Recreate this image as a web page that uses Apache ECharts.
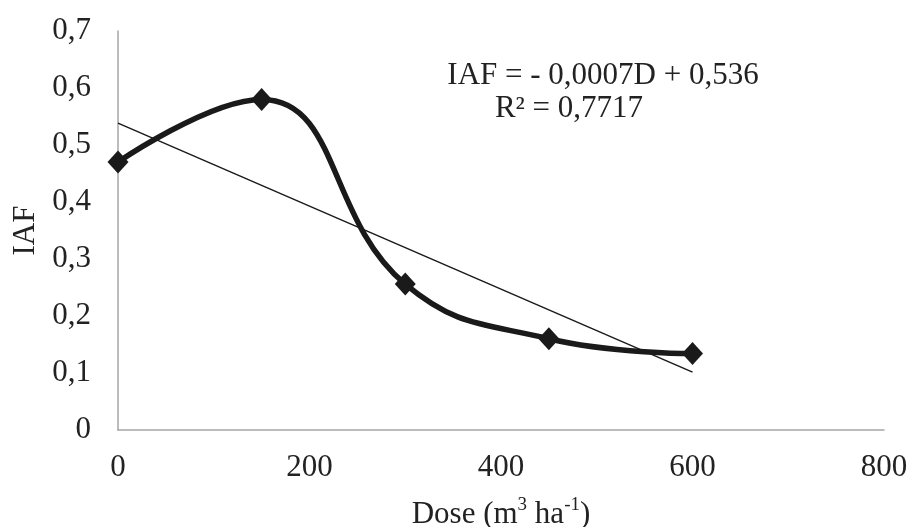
<!DOCTYPE html>
<html>
<head>
<meta charset="utf-8">
<script src="https://cdn.jsdelivr.net/npm/echarts@6/dist/echarts.min.js"></script>
<style>
  html, body { margin: 0; padding: 0; background: #fff; overflow: hidden; }
  #chart { width: 908px; height: 527px; }
</style>
</head>
<body>
<div id="chart"></div>
<script>
// Leaf area index (IAF) against applied dose
const doses = [0, 150, 300, 450, 600];
const iafValues = [0.47, 0.58, 0.256, 0.16, 0.134];
const xTicks = [0, 200, 400, 600, 800];
const yTicks = [0, 0.1, 0.2, 0.3, 0.4, 0.5, 0.6, 0.7];
const equationLine = 'IAF = - 0,0007D + 0,536';
const r2Line = 'R² = 0,7717';

// Least-squares linear fit of the measured points
function linearFit(xs, ys) {
  const n = xs.length;
  const mx = xs.reduce((a, b) => a + b, 0) / n;
  const my = ys.reduce((a, b) => a + b, 0) / n;
  let sxy = 0, sxx = 0;
  for (let i = 0; i < n; i++) {
    sxy += (xs[i] - mx) * (ys[i] - my);
    sxx += (xs[i] - mx) * (xs[i] - mx);
  }
  const slope = sxy / sxx;
  return { slope, intercept: my - slope * mx };
}
const fit = linearFit(doses, iafValues);
const xFirst = doses[0], xLast = doses[doses.length - 1];
const trendData = [
  [xFirst, fit.intercept + fit.slope * xFirst],
  [xLast, fit.intercept + fit.slope * xLast]
];

const FONT = '"Liberation Serif", "Times New Roman", serif';
const chart = echarts.init(document.getElementById('chart'), null, { renderer: 'canvas', width: 908, height: 527 });

chart.setOption({
  animation: false,
  backgroundColor: '#ffffff',
  grid: { left: 118, right: 24, top: 31, bottom: 97, containLabel: false, outerBoundsMode: 'none' },
  xAxis: {
    type: 'value',
    min: xTicks[0],
    max: xTicks[xTicks.length - 1],
    interval: xTicks[1] - xTicks[0],
    name: '{t|Dose (m}{s|3}{t| ha}{s|-1}{t|)}',
    nameLocation: 'middle',
    nameGap: 66,
    nameTextStyle: {
      rich: {
        t: { fontFamily: FONT, fontSize: 31, color: '#222', verticalAlign: 'bottom', lineHeight: 34 },
        s: { fontFamily: FONT, fontSize: 19, color: '#222', verticalAlign: 'top', lineHeight: 34 }
      }
    },
    axisLine: { show: true, lineStyle: { color: '#a6a6a6', width: 1.5 } },
    axisTick: { show: false },
    splitLine: { show: false },
    axisLabel: { fontFamily: FONT, fontSize: 31, color: '#222', margin: 22 }
  },
  yAxis: {
    type: 'value',
    min: yTicks[0],
    max: yTicks[yTicks.length - 1],
    interval: 0.1,
    name: 'IAF',
    nameLocation: 'middle',
    nameGap: 76,
    nameTextStyle: { fontFamily: FONT, fontSize: 31, color: '#222' },
    axisLine: { show: true, lineStyle: { color: '#a6a6a6', width: 1.5 } },
    axisTick: { show: false },
    splitLine: { show: false },
    axisLabel: {
      fontFamily: FONT, fontSize: 31, color: '#222', margin: 27,
      formatter: v => (Math.round(v * 10) / 10).toString().replace('.', ',')
    }
  },
  graphic: [
    {
      type: 'text', x: 603, y: 76,
      style: { text: equationLine, align: 'center', verticalAlign: 'middle', font: '31px ' + FONT, fill: '#222' }
    },
    {
      type: 'text', x: 569, y: 109,
      style: { text: r2Line, align: 'center', verticalAlign: 'middle', font: '31px ' + FONT, fill: '#222' }
    }
  ],
  series: [
    {
      name: 'trend',
      type: 'line',
      data: trendData,
      symbol: 'none',
      lineStyle: { color: '#1a1a1a', width: 1.5 },
      z: 2
    },
    {
      name: 'IAF',
      type: 'line',
      data: doses.map((d, i) => [d, iafValues[i]]),
      smooth: 0.45,
      symbol: 'diamond',
      symbolSize: [21, 23],
      itemStyle: { color: '#1a1a1a' },
      lineStyle: { color: '#1a1a1a', width: 5.5 },
      z: 3
    }
  ]
});
</script>
</body>
</html>
